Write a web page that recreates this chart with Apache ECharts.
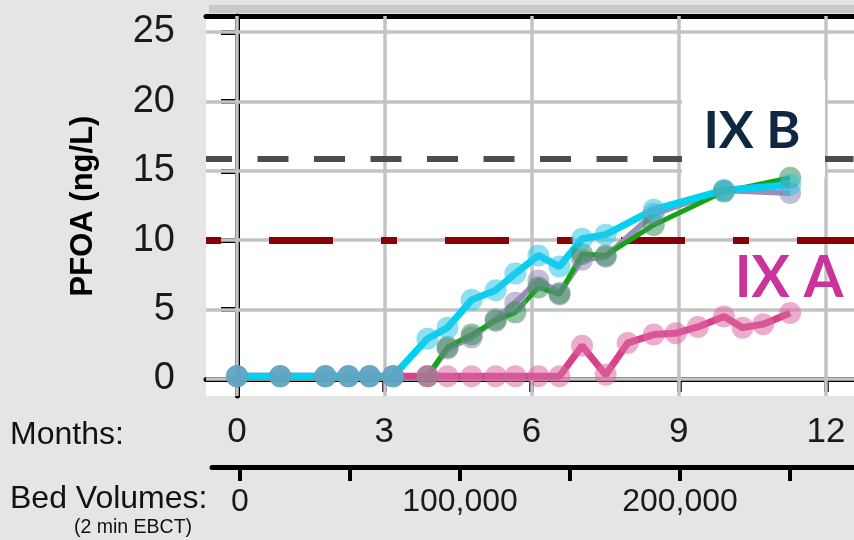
<!DOCTYPE html>
<html><head><meta charset="utf-8">
<script src="https://cdn.jsdelivr.net/npm/echarts@6/dist/echarts.min.js"></script>
<style>html,body{margin:0;padding:0;background:#e5e5e5}#c{width:854px;height:540px}</style>
</head><body><div id="c"></div>
<script>
// time of each sample, in months
const months = [0, 0.88, 1.8, 2.27, 2.7, 3.18, 3.88, 4.29, 4.78, 5.27, 5.67, 6.14, 6.57, 7.03, 7.51, 7.96, 8.49, 8.94, 9.39, 9.92, 10.3, 10.72, 11.27];
// PFOA (ng/L)
const ixBCyan   = [0.2,0.2,0.2,0.2,0.2,0.2, 2.9,3.7,5.7,6.4,7.6,8.9,8.1,10.1,10.4,null,12.2,null,null,13.6,null,null,14.0];
const ixBPurple = [0.2,0.2,0.2,0.2,0.2,0.2, 0.2,2.2,3.0,4.3,5.5,7.1,6.2,8.6,8.8,null,11.9,null,null,13.6,null,null,13.4];
const ixBGreen  = [0.2,0.2,0.2,0.2,0.2,0.2, 0.2,2.3,3.2,4.2,4.8,6.6,6.1,9.0,8.9,null,11.1,null,null,13.5,null,null,14.5];
const ixA       = [0.2,0.2,0.2,0.2,0.2,0.2, 0.2,0.2,0.2,0.2,0.2,0.2,0.2,2.4,0.3,2.6,3.2,3.3,3.75,4.5,3.7,3.95,4.75];
// axes
const yTicks = [0, 5, 10, 15, 20, 25];
const monthTicks = [0, 3, 6, 9, 12];
const bedTicks = [0, 50000, 100000, 150000, 200000, 250000];
const bedLabels = [0, 100000, 200000];
// reference levels
const mclLevel = 10;
const upperLevel = 15.9;

const pairs = arr => months.map((m, i) => [m, arr[i]]);
const gridStyle = {color: '#c3c3c3', width: 3.5, type: 'solid'};

function dataSeries(name, arr, lineColor, dotColor, width, op) {
  return {
    name, type: 'line', data: pairs(arr), connectNulls: true,
    symbol: 'circle', symbolSize: 22, showAllSymbol: true,
    lineStyle: {color: lineColor, width: width},
    itemStyle: {color: dotColor, opacity: op},
    z: 5, silent: true
  };
}

const chart = echarts.init(document.getElementById('c'), null, {renderer: 'canvas'});
chart.setOption({
  animation: false,
  backgroundColor: '#e5e5e5',
  textStyle: {fontFamily: 'Liberation Sans'},
  grid: [
    {left: 206, top: 16, right: 0, bottom: 144, show: true, backgroundColor: '#ffffff', borderWidth: 0},
    {left: 212, top: 467, right: 0, height: 0}
  ],
  xAxis: [
    {type: 'value', gridIndex: 0, min: -0.632, max: 12.57, position: 'bottom',
     axisLine: {show: true, lineStyle: {color: '#000', width: 5}},
     axisTick: {show: true, customValues: monthTicks, length: 13, lineStyle: {color: '#000', width: 4.5}},
     axisLabel: {customValues: monthTicks, fontSize: 35, color: '#1a1a1a', margin: 19, fontFamily: 'Liberation Sans'},
     splitLine: {show: false}},
    {type: 'value', gridIndex: 0, min: -0.632, max: 12.57, position: 'top',
     axisLine: {show: true, lineStyle: {color: '#000', width: 5}},
     axisTick: {show: false}, axisLabel: {show: false}, splitLine: {show: false}},
    {type: 'value', gridIndex: 1, min: -12727, max: 279090, position: 'bottom',
     axisLine: {show: true, lineStyle: {color: '#000', width: 5}},
     axisTick: {show: true, customValues: bedTicks, length: 14, lineStyle: {color: '#000', width: 4}},
     axisLabel: {customValues: bedLabels, fontSize: 32, color: '#1a1a1a', margin: 19, fontFamily: 'Liberation Sans',
                 formatter: v => Number(v).toLocaleString('en-US')},
     splitLine: {show: false}}
  ],
  yAxis: [
    {type: 'value', gridIndex: 0, min: -1.225, max: 26.15,
     name: 'PFOA (ng/L)', nameLocation: 'middle', nameGap: 107, nameRotate: 90,
     nameTextStyle: {fontSize: 31, fontWeight: 'bold', color: '#000', fontFamily: 'Liberation Sans'},
     axisLine: {show: true, lineStyle: {color: '#000', width: 5}},
     axisTick: {show: true, customValues: yTicks, length: 16, lineStyle: {color: '#000', width: 5}},
     axisLabel: {customValues: yTicks, fontSize: 38, color: '#1a1a1a', margin: 31, fontFamily: 'Liberation Sans'},
     splitLine: {show: false}},
    {type: 'value', gridIndex: 1, show: false, min: 0, max: 1}
  ],
  series: [
    {type: 'line', data: [], xAxisIndex: 0, yAxisIndex: 0, z: 1, silent: true,
     markLine: {z: 1, silent: true, symbol: ['none', 'none'], label: {show: false}, animation: false,
       data: [
         ...yTicks.map(v => ({yAxis: v, lineStyle: gridStyle})),
         ...monthTicks.map(v => ({xAxis: v, lineStyle: gridStyle})),
         {yAxis: upperLevel, lineStyle: {color: '#4d4d4d', width: 6, type: [31, 25.5], dashOffset: 5}},
         {yAxis: mclLevel, lineStyle: {color: '#8b0000', width: 7, type: [64, 48, 16, 48], dashOffset: 113}}
       ]}},
    dataSeries('IX B purple', ixBPurple, '#9a8fb8', '#9487b8', 6, 0.55),
    dataSeries('IX B green', ixBGreen, '#16a316', '#3d8f5a', 5, 0.55),
    dataSeries('IX A', ixA, '#d6418a', '#dc6aa2', 7, 0.55),
    dataSeries('IX B cyan', ixBCyan, '#00d0f2', '#2cc6e8', 7, 0.55)
  ],
  graphic: {
    z: 3,
    elements: [
      {type: 'rect', z: 3, shape: {x: 209, y: 5, width: 645, height: 8}, style: {fill: '#c8c8c8'}},
      {type: 'rect', z: 3, shape: {x: 682, y: 80, width: 143, height: 97}, style: {fill: '#ffffff'}},
      {type: 'text', z: 3, x: 752, y: 131, style: {text: 'IX B', fontSize: 52, fontWeight: 'bold', fontFamily: 'Lato', fill: '#0d2840', align: 'center', verticalAlign: 'middle'}},
      {type: 'text', z: 3, x: 789, y: 279, style: {text: 'IX A', fontSize: 57, fontWeight: 'bold', fontFamily: 'Lato', fill: '#c9339a', align: 'center', verticalAlign: 'middle'}},
      {type: 'text', z: 3, x: 10, y: 435, style: {text: 'Months:', fontSize: 32, fontFamily: 'Liberation Sans', fill: '#111', align: 'left', verticalAlign: 'middle'}},
      {type: 'text', z: 3, x: 10, y: 499, style: {text: 'Bed Volumes:', fontSize: 32, fontFamily: 'Liberation Sans', fill: '#111', align: 'left', verticalAlign: 'middle'}},
      {type: 'text', z: 3, x: 133, y: 528, style: {text: '(2 min EBCT)', fontSize: 19.5, fontFamily: 'Liberation Sans', fill: '#111', align: 'center', verticalAlign: 'middle'}}
    ]
  }
});
</script></body></html>
